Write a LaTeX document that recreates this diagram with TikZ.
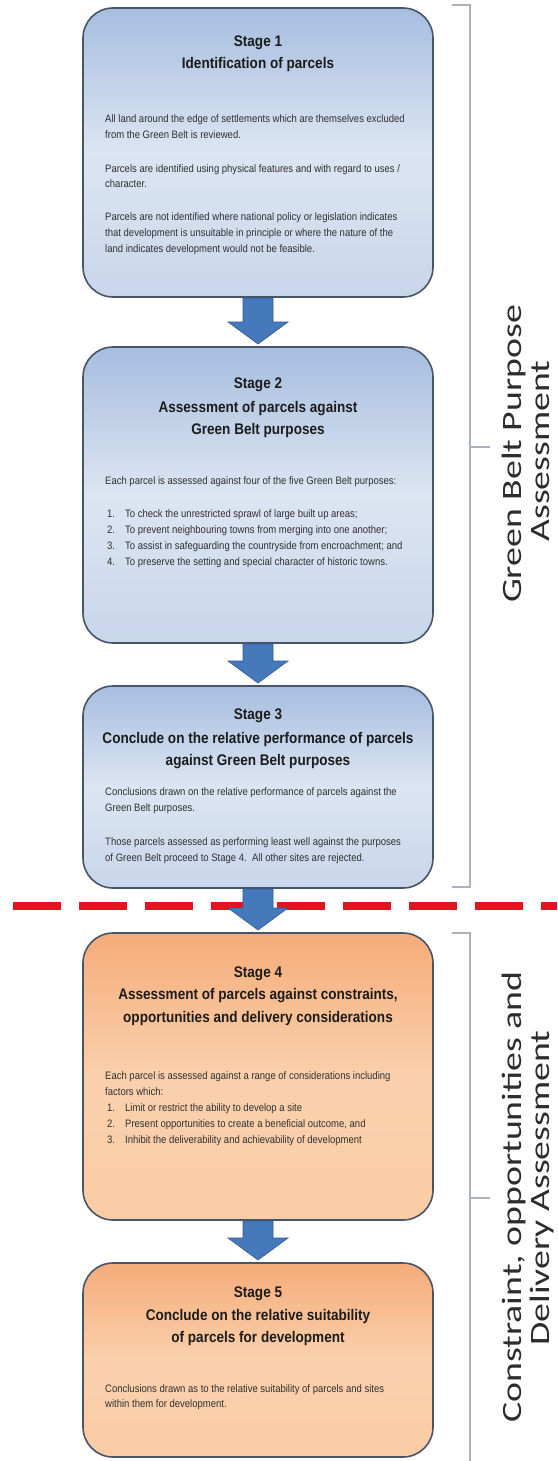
\documentclass[tikz,border=0pt]{standalone}
\usepackage{fontspec}
\newfontfamily\boxfont[FakeStretch=0.88]{Liberation Sans}
\newfontfamily\sidefont[FakeStretch=1.35]{Carlito}
\usetikzlibrary{calc}
\definecolor{bluetop}{RGB}{166,190,223}
\definecolor{bluemid}{RGB}{220,229,242}
\definecolor{bluebot}{RGB}{200,214,235}
\definecolor{orangetop}{RGB}{245,172,122}
\definecolor{orangemid}{RGB}{250,208,172}
\definecolor{orangebot}{RGB}{250,204,166}
\definecolor{boxline}{RGB}{72,84,104}
\definecolor{arrowblue}{RGB}{70,120,188}
\definecolor{dashred}{RGB}{222,22,32}
\definecolor{bracketgray}{RGB}{172,178,188}
\definecolor{titlecol}{RGB}{28,28,28}
\definecolor{bodycol}{RGB}{48,48,48}
\definecolor{sidecol}{RGB}{45,45,45}
\newcommand\blockarrow[2]{%
  \fill[arrowc] ($(#1.south)+(-15,1)$) -- ($(#1.south)+(15,1)$)
    -- ($(#2.north)+(15,-25)$) -- ($(#2.north)+(30,-25)$)
    -- ($(#2.north)+(0,-3)$) -- ($(#2.north)+(-30,-25)$)
    -- ($(#2.north)+(-15,-25)$) -- cycle;}
\tikzset{
  stagebox/.style={draw=boxline, line width=1.6pt, rounded corners=30pt,
    minimum width=350pt, inner sep=0pt, outer sep=0pt},
  bluebox/.style={stagebox, top color=bluetop, bottom color=bluebot, middle color=bluemid},
  orangebox/.style={stagebox, top color=orangetop, bottom color=orangebot, middle color=orangemid},
  ttl/.style={font=\boxfont\bfseries\fontsize{15.4}{18}\selectfont, text=titlecol,
    anchor=base, inner sep=0pt},
  bdy/.style={font=\boxfont\fontsize{10.8}{13}\selectfont, text=bodycol,
    anchor=base west, inner sep=0pt},
  side/.style={font=\sidefont\fontsize{28}{32}\selectfont, text=sidecol,
    anchor=base, rotate=90, inner sep=0pt},
  bracket/.style={draw=bracketgray, line width=1.5pt},
  arrowc/.style={fill=arrowblue, draw=arrowblue!75!black, line width=0.6pt},
  redline/.style={draw=dashred, line width=8pt, dash pattern=on 48pt off 18pt},
}
\begin{document}
\begin{tikzpicture}[x=1pt,y=-1pt]
\useasboundingbox (0,0) rectangle (557,1461);
\fill[white] (0,0) rectangle (557,1461);

% red separator
\draw[redline] (13,906) -- (557,906);

% brackets
\draw[bracket] (452,5) -- (470,5) -- (470,887) -- (452,887);
\draw[bracket] (470,447) -- (490,447);
\draw[bracket] (452,933) -- (470,933) -- (470,1462);
\draw[bracket] (470,1198) -- (490,1198);

% boxes
\node[bluebox, minimum height=289pt] (s1) at (258,152.5) {};
\node[bluebox, minimum height=296pt] (s2) at (258,495) {};
\node[bluebox, minimum height=202pt] (s3) at (258,787) {};
\node[orangebox, minimum height=287pt] (s4) at (258,1076.5) {};
\node[orangebox, minimum height=194pt] (s5) at (258,1360) {};

% arrows
\blockarrow{s1}{s2}
\blockarrow{s2}{s3}
\blockarrow{s3}{s4}
\blockarrow{s4}{s5}

% Stage 1
\node[ttl] (t1a) at (258,47) {Stage 1};
\node[ttl] (t1b) at (258,68.5) {Identification of parcels};
\node[bdy] (b1a) at (105,123) {All land around the edge of settlements which are themselves excluded};
\node[bdy] (b1b) at (105,138.5) {from the Green Belt is reviewed.};
\node[bdy] (b1c) at (105,172) {Parcels are identified using physical features and with regard to uses /};
\node[bdy] (b1d) at (105,187.5) {character.};
\node[bdy] (b1e) at (105,220) {Parcels are not identified where national policy or legislation indicates};
\node[bdy] (b1f) at (105,236) {that development is unsuitable in principle or where the nature of the};
\node[bdy] (b1g) at (105,252) {land indicates development would not be feasible.};

% Stage 2
\node[ttl] (t2a) at (258,388) {Stage 2};
\node[ttl] (t2b) at (258,412.5) {Assessment of parcels against};
\node[ttl] (t2c) at (258,434) {Green Belt purposes};
\node[bdy] (b2a) at (105,484) {Each parcel is assessed against four of the five Green Belt purposes:};
\node[bdy] (n2a) at (107,517) {1.};
\node[bdy] (b2b) at (125,517) {To check the unrestricted sprawl of large built up areas;};
\node[bdy] (n2b) at (107,533) {2.};
\node[bdy] (b2c) at (125,533) {To prevent neighbouring towns from merging into one another;};
\node[bdy] (n2c) at (107,549) {3.};
\node[bdy] (b2d) at (125,549) {To assist in safeguarding the countryside from encroachment; and};
\node[bdy] (n2d) at (107,565) {4.};
\node[bdy] (b2e) at (125,565) {To preserve the setting and special character of historic towns.};

% Stage 3
\node[ttl] (t3a) at (258,719) {Stage 3};
\node[ttl] (t3b) at (258,743) {Conclude on the relative performance of parcels};
\node[ttl] (t3c) at (258,765) {against Green Belt purposes};
\node[bdy] (b3a) at (105,795) {Conclusions drawn on the relative performance of parcels against the};
\node[bdy] (b3b) at (105,811.5) {Green Belt purposes.};
\node[bdy] (b3c) at (105,845) {Those parcels assessed as performing least well against the purposes};
\node[bdy] (b3d) at (105,861.5) {of Green Belt proceed to Stage 4.\ \ All other sites are rejected.};

% Stage 4
\node[ttl] (t4a) at (258,977) {Stage 4};
\node[ttl] (t4b) at (258,999.5) {Assessment of parcels against constraints,};
\node[ttl] (t4c) at (258,1022) {opportunities and delivery considerations};
\node[bdy] (b4a) at (105,1079) {Each parcel is assessed against a range of considerations including};
\node[bdy] (b4b) at (105,1095) {factors which:};
\node[bdy] (n4a) at (107,1111) {1.};
\node[bdy] (b4c) at (125,1111) {Limit or restrict the ability to develop a site};
\node[bdy] (n4b) at (107,1127) {2.};
\node[bdy] (b4d) at (125,1127) {Present opportunities to create a beneficial outcome, and};
\node[bdy] (n4c) at (107,1143) {3.};
\node[bdy] (b4e) at (125,1143) {Inhibit the deliverability and achievability of development};

% Stage 5
\node[ttl] (t5a) at (258,1297) {Stage 5};
\node[ttl] (t5b) at (258,1320) {Conclude on the relative suitability};
\node[ttl] (t5c) at (258,1342) {of parcels for development};
\node[bdy] (b5a) at (105,1392) {Conclusions drawn as to the relative suitability of parcels and sites};
\node[bdy] (b5b) at (105,1407.5) {within them for development.};

% side labels
\node[side] (g1) at (521,454) {Green Belt Purpose};
\node[side] (g2) at (549,451) {Assessment};
\node[side] (c1) at (521,1197) {Constraint, opportunities and};
\node[side] (c2) at (549,1188) {Delivery Assessment};
\end{tikzpicture}
\end{document}
